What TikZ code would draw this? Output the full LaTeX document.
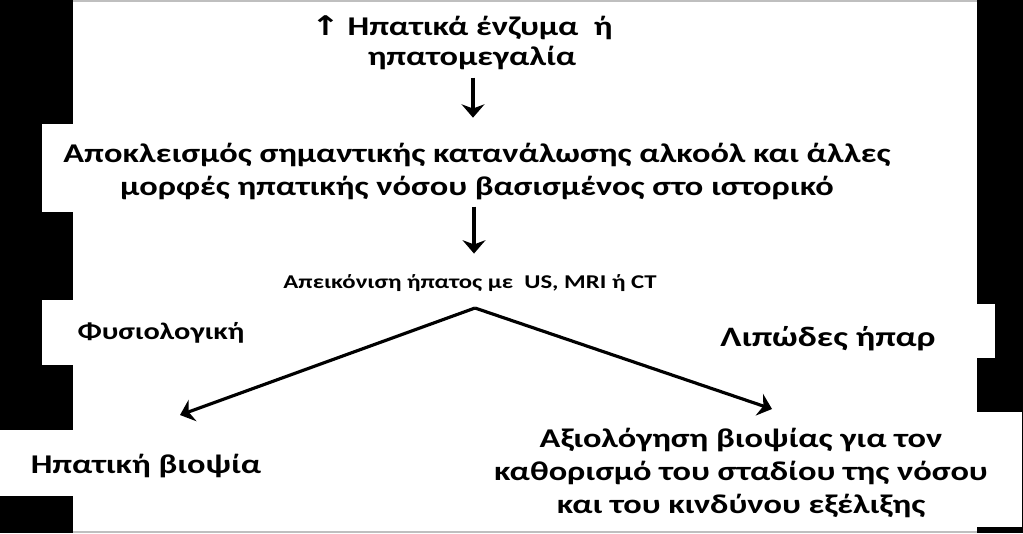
\documentclass[tikz,border=0pt]{standalone}
\usepackage{fontspec}
\setmainfont{Carlito}
\newfontfamily\arrowfont{DejaVu Sans}
\usetikzlibrary{arrows.meta}
\tikzset{lbl/.style={font=\bfseries, align=center, inner sep=0pt, transform shape, xscale=1.27},
         arr/.style={-{Stealth[length=3.8pt,width=6.5pt,inset=1.2pt]}, line width=1.1pt}}
\newcommand{\fsz}[2]{\fontsize{#1}{#2}\selectfont}

\begin{document}
\begin{tikzpicture}
% background and white panels
\fill[black](0,0) rectangle (10.23,5.33);
\fill[white](0.73,0) rectangle (9.77,5.33);
\fill[white](0.42,3.21) rectangle (0.73,4.09);
\fill[white](0.42,1.68) rectangle (0.73,2.33);
\fill[white](0,0.37) rectangle (0.73,1.03);
\fill[white](9.77,1.75) rectangle (9.95,2.29);
\fill[white](9.77,0.06) rectangle (10.22,1.21);
\draw[gray!50,line width=0.5pt](0.73,5.32)--(9.77,5.32);
\draw[gray!50,line width=0.5pt](0.73,0.01)--(9.77,0.01);
% texts
\node[lbl,font=\bfseries\fsz{7.7pt}{8.5pt}] (enz) at (4.72,4.90) {{\arrowfont↑}\ Ηπατικά ένζυμα~ ή\hspace*{0.16cm}\\ηπατομεγαλία};
\node[lbl,font=\bfseries\fsz{7.7pt}{9.4pt}] (excl) at (4.77,3.615) {Αποκλεισμός σημαντικής κατανάλωσης αλκοόλ και άλλες\\μορφές ηπατικής νόσου βασισμένος στο ιστορικό};
\node[lbl,font=\bfseries\fsz{5.55pt}{6.5pt}] (img) at (4.70,2.50) {Απεικόνιση ήπατος με~ US, MRI ή CT};
\node[lbl,font=\bfseries\fsz{6.8pt}{8pt}] (norm) at (1.61,2.00) {Φυσιολογική};
\node[lbl,font=\bfseries\fsz{8pt}{9.4pt}] (fat) at (8.28,1.94) {Λιπώδες ήπαρ};
\node[lbl,font=\bfseries\fsz{7.7pt}{9.4pt}] (bio) at (1.46,0.67) {Ηπατική βιοψία};
\node[lbl,font=\bfseries\fsz{7.7pt}{9.4pt}] (eval) at (7.41,0.605) {Αξιολόγηση βιοψίας για τον\\καθορισμό του σταδίου της νόσου\\και του κινδύνου εξέλιξης};
% arrows
\coordinate (apex) at (4.75,2.25);
\coordinate (ltip) at (1.80,1.18);
\coordinate (rtip) at (7.72,1.24);
\draw[arr](enz.south -| apex) ++(-0.02,-0.07) -- ++(0,-0.40);
\draw[arr](excl.south -| apex) ++(-0.01,-0.06) -- ++(0,-0.47);
\draw[arr,line width=0.9pt](apex) -- (ltip);
\draw[arr,line width=0.9pt](apex) -- (rtip);
\end{tikzpicture}
\end{document}
